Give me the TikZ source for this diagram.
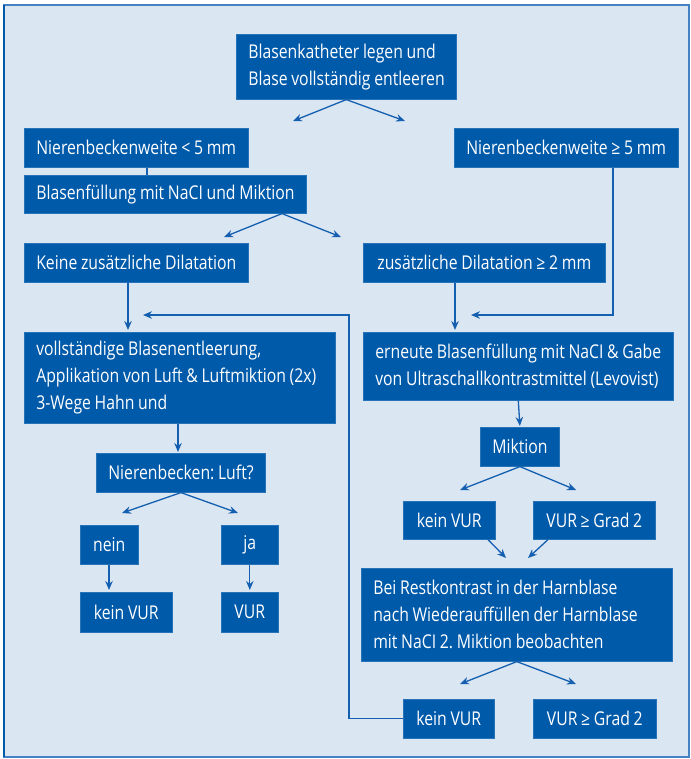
\documentclass[tikz,border=0pt]{standalone}
\usepackage{fontspec}
\setmainfont[FakeStretch=0.83,WordSpace=0.9]{Open Sans}
\usetikzlibrary{arrows.meta,calc}
\definecolor{boxblue}{RGB}{0,90,170}
\definecolor{bgblue}{RGB}{219,230,243}
\definecolor{lineblue}{RGB}{20,95,175}
\definecolor{frameblue}{RGB}{70,130,195}
\newcommand\natsp{\spaceskip=0pt\xspaceskip=0pt\relax}
\tikzset{
  box/.style={fill=boxblue, draw=boxblue!85!white, line width=0.6pt, text=white,
    anchor=north west, inner xsep=12pt, inner ysep=0pt,
    font=\fontsize{19}{27}\selectfont\frenchspacing},
  lbox/.style={box, align=left, inner xsep=12pt},
  ln/.style={draw=lineblue, line width=1.3pt},
  arr/.style={ln, -{Stealth[length=9pt,width=7.5pt]}},
}
\begin{document}
\begin{tikzpicture}[x=1pt,y=-1pt]
\useasboundingbox (0,0) rectangle (690,759);
\fill[white] (0,0) rectangle (690,759);
\fill[bgblue] (4,5) rectangle (689,757);
\draw[frameblue, line width=1.5pt] (4,5) rectangle (689,757);
\draw[boxblue, line width=2pt] (4,5) -- (4,757);

% nodes
\node[lbox, text width=196, minimum height=65] (top) at (236,34) {\natsp\mbox{Blasenkatheter legen und}\\\mbox{Blase vollständig entleeren}};
\node[box, minimum width=219, minimum height=39] (n1) at (24,128) {Nierenbeckenweite < 5 mm};
\node[box, minimum width=220, minimum height=39] (n2) at (454,128) {Nierenbeckenweite ≥ 5 mm};
\node[box, minimum width=281, minimum height=38] (n3) at (24,175) {Blasenfüllung mit NaCI und Miktion};
\node[box, minimum width=219, minimum height=39] (n4) at (24,243) {Keine zusätzliche Dilatation};
\node[box, minimum width=242, minimum height=39] (n5) at (363,243) {zusätzliche Dilatation ≥ 2 mm};
\node[lbox, text width=287, minimum height=91] (n6) at (24,332) {\natsp\mbox{vollständige Blasenentleerung,}\\\mbox{Applikation von Luft \& Luftmiktion (2x)}\\\mbox{3-Wege Hahn und}};
\node[lbox, text width=286, minimum height=68] (n7) at (363,332) {\natsp\mbox{erneute Blasenfüllung mit NaCI \& Gabe}\\\mbox{von Ultraschallkontrastmittel (Levovist)}};
\node[box, minimum width=77, minimum height=39] (n8) at (480,427) {Miktion};
\node[box, minimum width=167, minimum height=39] (n9) at (96,453) {Nierenbecken: Luft?};
\node[box, minimum width=58, minimum height=39] (n10) at (80,525) {nein};
\node[box, minimum width=57, minimum height=39] (n11) at (221,525) {ja};
\node[box, minimum width=92, minimum height=40] (n12) at (80,592) {kein VUR};
\node[box, minimum width=57, minimum height=40] (n13) at (221,592) {VUR};
\node[box, minimum width=92, minimum height=38] (n14) at (403,501) {kein VUR};
\node[box, minimum width=122, minimum height=38] (n15) at (533,501) {VUR ≥ Grad 2};
\node[lbox, text width=287, minimum height=93] (n16) at (361,568) {\natsp\mbox{Bei Restkontrast in der Harnblase}\\\mbox{nach Wiederauffüllen der Harnblase}\\\mbox{mit NaCI 2. Miktion beobachten}};
\node[box, minimum width=91, minimum height=39] (n17) at (403,699) {kein VUR};
\node[box, minimum width=123, minimum height=39] (n18) at (533,699) {VUR ≥ Grad 2};

% helper coordinates
\coordinate (c1) at (293,121);
\coordinate (c2) at (405,121);
\coordinate (x147) at (147,0);
\coordinate (x282) at (282,0);
\coordinate (c4) at (224,237);
\coordinate (c5) at (341,237);
\coordinate (k1) at (613,315);
\coordinate (c6) at (471,315);
\coordinate (x128) at (128,0);
\coordinate (x455) at (455,0);
\coordinate (x178) at (178,0);
\coordinate (x109) at (109,0);
\coordinate (c7) at (122,513);
\coordinate (c8) at (238,513);
\coordinate (c9) at (460,490);
\coordinate (c10) at (576,490);
\coordinate (x488) at (488,0);
\coordinate (x548) at (548,0);
\coordinate (c11) at (506,558);
\coordinate (c12) at (528,558);
\coordinate (c13) at (460,684);
\coordinate (c14) at (576,684);
\coordinate (k2) at (349,315);
\coordinate (c15) at (143,315);
\coordinate (x613) at (613,0);

% connectors
\draw[arr] (top.south) -- (c1);
\draw[arr] (top.south) -- (c2);
\draw[ln] (n1.south -| x147) -- (n3.north -| x147);
\draw[arr] (n3.south -| x282) -- (c4);
\draw[arr] (n3.south -| x282) -- (c5);
\draw[arr] (n2.south -| x613) -- (k1) -- (c6);
\draw[arr, shorten >=2pt] (n4.south -| x128) -- (n6.north -| x128);
\draw[arr, shorten >=2pt] (n5.south -| x455) -- (n7.north -| x455);
\draw[arr, shorten >=1pt] (n6.south -| x178) -- (n9.north -| x178);
\draw[arr] (n9.south) -- (c7);
\draw[arr] (n9.south) -- (c8);
\draw[arr, shorten >=2pt] (n10.south -| x109) -- (n12.north -| x109);
\draw[arr, shorten >=2pt] (n11.south) -- (n13.north);
\draw[arr, shorten >=1pt] (n7.south) -- (n8.north);
\draw[arr] (n8.south) -- (c9);
\draw[arr] (n8.south) -- (c10);
\draw[arr] (n14.south -| x488) -- (c11);
\draw[arr] (n15.south -| x548) -- (c12);
\draw[arr] (n16.south) -- (c13);
\draw[arr] (n16.south) -- (c14);
\draw[arr] (n17.west) -| (k2) -- (c15);
\end{tikzpicture}
\end{document}
